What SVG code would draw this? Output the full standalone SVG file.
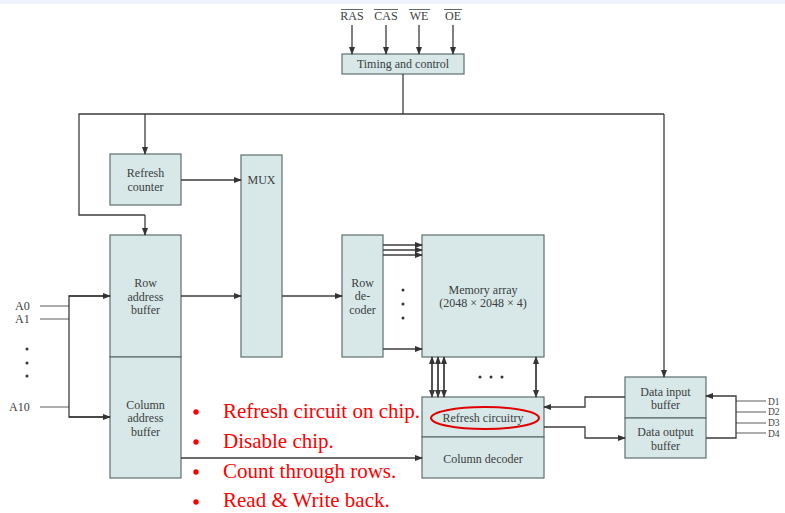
<svg xmlns="http://www.w3.org/2000/svg" width="785" height="513" viewBox="0 0 785 513">
<defs>
<marker id="ah" markerWidth="8" markerHeight="6" refX="7" refY="3" orient="auto" markerUnits="userSpaceOnUse">
<path d="M0,0 L8,3 L0,6 z" fill="#333"/>
</marker>
<style>
.box{fill:#d8e8e8;stroke:#5f6e6e;stroke-width:1.2}
.t{font-family:"Liberation Serif",serif;font-size:12px;fill:#3a4040;text-anchor:middle}
.lbl{font-family:"Liberation Serif",serif;font-size:12px;fill:#3a4040}
.dl{font-family:"Liberation Serif",serif;font-size:9.5px;fill:#3a4040}
.w{fill:none;stroke:#3c3c3c;stroke-width:1.3}
.wa{fill:none;stroke:#3c3c3c;stroke-width:1.3;marker-end:url(#ah)}
.g{fill:none;stroke:#777;stroke-width:1.2}
.red{font-family:"Liberation Serif",serif;font-size:21px;fill:#ff0000}
.dot{fill:#333}
</style>
</defs>
<rect x="0" y="0" width="785" height="4" fill="#eef2fa"/>

<g id="signals">
<text class="t" x="352" y="20">RAS</text>
<text class="t" x="386" y="20">CAS</text>
<text class="t" x="419" y="20">WE</text>
<text class="t" x="453" y="20">OE</text>
<line x1="341" y1="9.5" x2="363" y2="9.5" stroke="#3a4040" stroke-width="0.8"/>
<line x1="374" y1="9.5" x2="398" y2="9.5" stroke="#3a4040" stroke-width="0.8"/>
<line x1="409" y1="9.5" x2="430" y2="9.5" stroke="#3a4040" stroke-width="0.8"/>
<line x1="444" y1="9.5" x2="462" y2="9.5" stroke="#3a4040" stroke-width="0.8"/>
</g>

<g id="timing">
<rect class="box" x="342" y="54" width="122" height="20"/>
<text class="t" x="403" y="68">Timing and control</text>
</g>

<g id="refresh-counter">
<rect class="box" x="110" y="154" width="71" height="51"/>
<text class="t" x="145.5" y="177">Refresh</text>
<text class="t" x="145.5" y="191">counter</text>
</g>

<g id="mux">
<rect class="box" x="241" y="155" width="41" height="202"/>
<text class="t" x="261.5" y="184">MUX</text>
</g>

<g id="row-address-buffer">
<rect class="box" x="110" y="235" width="71" height="122"/>
<text class="t" x="145.5" y="287">Row</text>
<text class="t" x="145.5" y="301">address</text>
<text class="t" x="145.5" y="314">buffer</text>
</g>

<g id="column-address-buffer">
<rect class="box" x="110" y="357" width="71" height="121"/>
<text class="t" x="145.5" y="409">Column</text>
<text class="t" x="145.5" y="422">address</text>
<text class="t" x="145.5" y="436">buffer</text>
</g>

<g id="row-decoder">
<rect class="box" x="342" y="235" width="41" height="122"/>
<text class="t" x="362.5" y="287">Row</text>
<text class="t" x="362.5" y="300">de-</text>
<text class="t" x="362.5" y="314">coder</text>
</g>

<g id="memory-array">
<rect class="box" x="422" y="235" width="122" height="122"/>
<text class="t" x="483" y="294">Memory array</text>
<text class="t" x="483" y="307">(2048 × 2048 × 4)</text>
</g>

<g id="refresh-circuitry">
<rect class="box" x="422" y="397" width="122" height="40"/>
<text class="t" x="483" y="422">Refresh circuitry</text>
</g>

<g id="column-decoder">
<rect class="box" x="422" y="437" width="122" height="41"/>
<text class="t" x="483" y="463">Column decoder</text>
</g>

<g id="data-input-buffer">
<rect class="box" x="625" y="377" width="81" height="41"/>
<text class="t" x="665.5" y="396">Data input</text>
<text class="t" x="665.5" y="409">buffer</text>
</g>

<g id="data-output-buffer">
<rect class="box" x="625" y="418" width="81" height="40"/>
<text class="t" x="665.5" y="436">Data output</text>
<text class="t" x="665.5" y="450">buffer</text>
</g>

<g id="address-labels">
<text class="lbl" x="15" y="310">A0</text>
<text class="lbl" x="15" y="323">A1</text>
<text class="lbl" x="9" y="411">A10</text>
<circle class="dot" cx="27" cy="349" r="1.5"/>
<circle class="dot" cx="27" cy="363" r="1.5"/>
<circle class="dot" cx="27" cy="376" r="1.5"/>
</g>

<g id="data-labels">
<text class="dl" x="768" y="404.5">D1</text>
<text class="dl" x="768" y="415">D2</text>
<text class="dl" x="768" y="425.5">D3</text>
<text class="dl" x="768" y="436.5">D4</text>
</g>

<g id="connectors">
<line class="wa" x1="352" y1="25" x2="352" y2="54"/>
<line class="wa" x1="386" y1="25" x2="386" y2="54"/>
<line class="wa" x1="419" y1="25" x2="419" y2="54"/>
<line class="wa" x1="453" y1="25" x2="453" y2="54"/>
<polyline class="w" points="403,74 403,114"/>
<polyline class="w" points="664,114 79,114 79,215 145,215"/>
<line class="wa" x1="145" y1="215" x2="145" y2="235"/>
<line class="wa" x1="145" y1="114" x2="145" y2="154"/>
<line class="wa" x1="664" y1="114" x2="664" y2="377"/>
<line class="wa" x1="181" y1="180" x2="241" y2="180"/>
<line class="wa" x1="181" y1="296" x2="241" y2="296"/>
<line class="wa" x1="282" y1="296" x2="342" y2="296"/>
<line class="wa" x1="383" y1="245" x2="422" y2="245"/>
<line class="wa" x1="383" y1="250" x2="422" y2="250"/>
<line class="wa" x1="383" y1="255" x2="422" y2="255"/>
<line class="wa" x1="383" y1="349" x2="422" y2="349"/>
<circle class="dot" cx="403" cy="290" r="1.5"/>
<circle class="dot" cx="403" cy="304" r="1.5"/>
<circle class="dot" cx="403" cy="318" r="1.5"/>
<line class="g" x1="40" y1="306" x2="69" y2="306"/>
<line class="g" x1="40" y1="319" x2="69" y2="319"/>
<line class="g" x1="40" y1="407" x2="69" y2="407"/>
<polyline class="w" points="110,296 69,296 69,417 110,417"/>
<line class="wa" x1="69" y1="296" x2="110" y2="296"/>
<line class="wa" x1="69" y1="417" x2="110" y2="417"/>
<line class="wa" x1="181" y1="458" x2="422" y2="458"/>
<line class="wa" x1="432" y1="358" x2="432" y2="397"/>
<line class="wa" x1="432" y1="396" x2="432" y2="357"/>
<line class="wa" x1="438" y1="358" x2="438" y2="397"/>
<line class="wa" x1="438" y1="396" x2="438" y2="357"/>
<line class="wa" x1="444" y1="358" x2="444" y2="397"/>
<line class="wa" x1="444" y1="396" x2="444" y2="357"/>
<line class="wa" x1="536" y1="358" x2="536" y2="397"/>
<line class="wa" x1="536" y1="396" x2="536" y2="357"/>
<circle class="dot" cx="480" cy="377" r="1.5"/>
<circle class="dot" cx="491" cy="377" r="1.5"/>
<circle class="dot" cx="502" cy="377" r="1.5"/>
<polyline class="wa" points="625,397 585,397 585,407 544,407"/>
<polyline class="wa" points="544,427 585,427 585,438 625,438"/>
<line class="g" x1="736" y1="401" x2="766" y2="401"/>
<line class="g" x1="736" y1="412" x2="766" y2="412"/>
<line class="g" x1="736" y1="423" x2="766" y2="423"/>
<line class="g" x1="736" y1="433" x2="766" y2="433"/>
<polyline class="wa" points="706,438 736,438 736,396 706,396"/>
</g>

<g id="annotations">
<ellipse cx="485" cy="418" rx="54" ry="11" fill="none" stroke="#e00000" stroke-width="2"/>
<circle cx="196" cy="412" r="2.7" fill="#ff0000"/>
<circle cx="196" cy="442" r="2.7" fill="#ff0000"/>
<circle cx="196" cy="472" r="2.7" fill="#ff0000"/>
<circle cx="196" cy="502" r="2.7" fill="#ff0000"/>
<text class="red" x="223" y="418">Refresh circuit on chip.</text>
<text class="red" x="223" y="448">Disable chip.</text>
<text class="red" x="223" y="478">Count through rows.</text>
<text class="red" x="223" y="507">Read &amp; Write back.</text>
</g>
</svg>
